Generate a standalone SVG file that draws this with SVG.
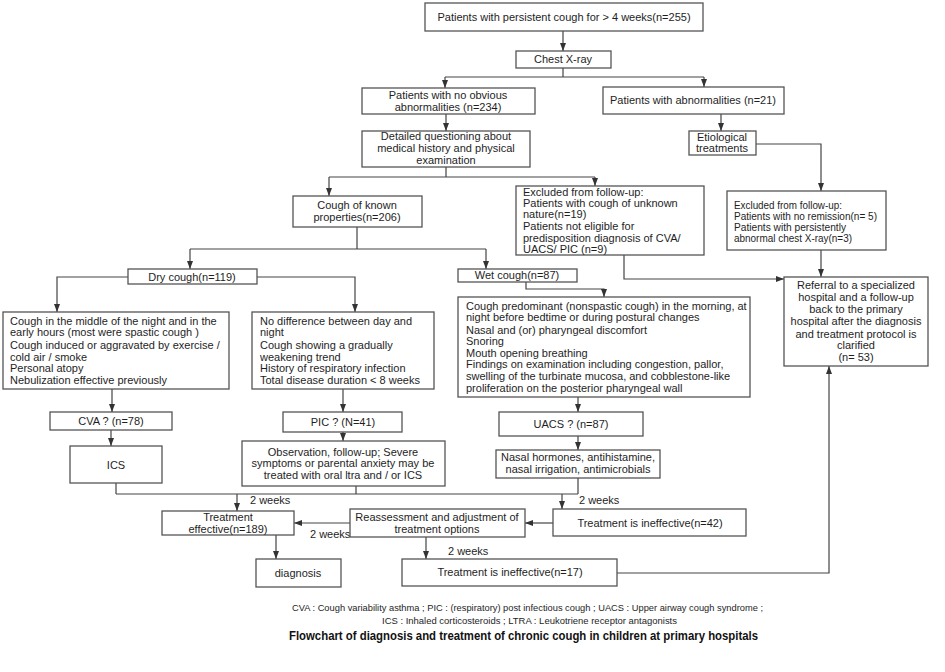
<svg xmlns="http://www.w3.org/2000/svg" width="945" height="672" viewBox="0 0 945 672">
<defs>
<marker id="ah" markerUnits="userSpaceOnUse" markerWidth="8" markerHeight="6" refX="8" refY="3" orient="auto">
<path d="M0,0 L8,3 L0,6 z" fill="#333"/>
</marker>
<style>
rect{fill:#fff;stroke:#555;stroke-width:1.3}
text{font-family:"Liberation Sans",Arial,sans-serif;font-size:11px;fill:#1e1e1e}
.c{text-anchor:middle}
.ln{fill:none;stroke:#444;stroke-width:1.2}
.ar{fill:none;stroke:#444;stroke-width:1.2;marker-end:url(#ah)}
.fn{font-size:9.5px}
.title{font-size:13px;font-weight:bold;fill:#111}
</style>
</defs>
<rect x="0" y="0" width="945" height="672" style="fill:#fff;stroke:none"/>

<g id="connectors">
<path class="ar" d="M563,31 V51"/>
<path class="ln" d="M563,68 V77 M445,77 H704"/>
<path class="ar" d="M445,77 V88"/>
<path class="ar" d="M704,77 V87"/>
<path class="ar" d="M446,114 V131"/>
<path class="ar" d="M721,114 V131"/>
<path class="ar" d="M756,144 H821 V191"/>
<path class="ln" d="M446,167 V177 M329,177 H595"/>
<path class="ar" d="M329,177 V196"/>
<path class="ar" d="M595,177 V186"/>
<path class="ln" d="M357,227 V249 M190,249 H486"/>
<path class="ar" d="M190,249 V269"/>
<path class="ar" d="M486,249 V269"/>
<path class="ar" d="M128,277 H57 V312"/>
<path class="ar" d="M257,277 H355 V312"/>
<path class="ar" d="M624,255 V279 H784"/>
<path class="ar" d="M821,250 V277"/>
<path class="ar" d="M526,282 V289 H604 V297"/>
<path class="ar" d="M112,389 V412"/>
<path class="ar" d="M343,389 V412"/>
<path class="ar" d="M111,430 V446"/>
<path class="ar" d="M343,432 V441"/>
<path class="ar" d="M578,397 V412"/>
<path class="ar" d="M578,436 V450"/>
<path class="ln" d="M116,483 V494 M356,486 V494 M578,478 V494 M116,494 H578"/>
<path class="ar" d="M237,494 V511"/>
<path class="ar" d="M562,494 V509"/>
<path class="ar" d="M553,523 H525"/>
<path class="ar" d="M350,523 H294"/>
<path class="ar" d="M276,535 V559"/>
<path class="ar" d="M426,537 V559"/>
<path class="ar" d="M617,573 H829 V366"/>
<text x="250" y="504">2 weeks</text>
<text x="579" y="504">2 weeks</text>
<text x="310" y="538">2 weeks</text>
<text x="448" y="555">2 weeks</text>
</g>

<g id="n-start"><rect x="425" y="3" width="278" height="28"/><text class="c" x="564" y="21">Patients with persistent cough for &gt; 4 weeks(n=255)</text></g>
<g id="n-xray"><rect x="516" y="51" width="95" height="17"/><text class="c" x="563" y="63">Chest X-ray</text></g>
<g id="n-noabn"><rect x="362" y="88" width="173" height="26"/><text class="c" x="448" y="99">Patients with no obvious</text><text class="c" x="448" y="111">abnormalities (n=234)</text></g>
<g id="n-abn"><rect x="603" y="87" width="181" height="27"/><text class="c" x="693" y="104">Patients with abnormalities (n=21)</text></g>
<g id="n-detail"><rect x="362" y="131" width="168" height="36"/><text class="c" x="446" y="140">Detailed questioning about</text><text class="c" x="446" y="152">medical history and physical</text><text class="c" x="446" y="164">examination</text></g>
<g id="n-etio"><rect x="689" y="131" width="67" height="24"/><text class="c" x="722" y="141">Etiological</text><text class="c" x="722" y="152">treatments</text></g>
<g id="n-known"><rect x="293" y="196" width="129" height="31"/><text class="c" x="357" y="209">Cough of known</text><text class="c" x="357" y="221">properties(n=206)</text></g>
<g id="n-excl1"><rect x="516" y="186" width="188" height="69"/>
<text x="523" y="196">Excluded from follow-up:</text>
<text x="523" y="207">Patients with cough of unknown</text>
<text x="523" y="218">nature(n=19)</text>
<text x="523" y="230">Patients not eligible for</text>
<text x="523" y="242">predisposition diagnosis of CVA/</text>
<text x="523" y="253">UACS/ PIC (n=9)</text></g>
<g id="n-excl2"><rect x="727" y="191" width="159" height="59"/>
<text x="734" y="209" textLength="108" lengthAdjust="spacingAndGlyphs">Excluded from follow-up:</text>
<text x="734" y="220" textLength="143" lengthAdjust="spacingAndGlyphs">Patients with no remission(n= 5)</text>
<text x="734" y="231" textLength="112" lengthAdjust="spacingAndGlyphs">Patients with persistently</text>
<text x="734" y="242" textLength="118" lengthAdjust="spacingAndGlyphs">abnormal chest X-ray(n=3)</text></g>
<g id="n-referral"><rect x="784" y="277" width="144" height="89"/>
<text class="c" x="856" y="289">Referral to a specialized</text>
<text class="c" x="856" y="301">hospital and a follow-up</text>
<text class="c" x="856" y="313">back to the primary</text>
<text class="c" x="856" y="325">hospital after the diagnosis</text>
<text class="c" x="856" y="338">and treatment protocol is</text>
<text class="c" x="856" y="349">clarified</text>
<text class="c" x="856" y="361">(n= 53)</text></g>
<g id="n-dry"><rect x="128" y="269" width="129" height="15"/><text class="c" x="192" y="281">Dry cough(n=119)</text></g>
<g id="n-wet"><rect x="458" y="269" width="119" height="13"/><text class="c" x="517" y="279">Wet cough(n=87)</text></g>
<g id="n-cvasym"><rect x="3" y="312" width="226" height="77"/>
<text x="10" y="325">Cough in the middle of the night and in the</text>
<text x="10" y="336">early hours (most were spastic cough )</text>
<text x="10" y="349">Cough induced or aggravated by exercise /</text>
<text x="10" y="361">cold air / smoke</text>
<text x="10" y="372">Personal atopy</text>
<text x="10" y="384">Nebulization effective previously</text></g>
<g id="n-picsym"><rect x="252" y="312" width="182" height="77"/>
<text x="260" y="325">No difference between day and</text>
<text x="260" y="336">night</text>
<text x="260" y="349">Cough showing a gradually</text>
<text x="260" y="361">weakening trend</text>
<text x="260" y="372">History of respiratory infection</text>
<text x="260" y="384">Total disease duration &lt; 8 weeks</text></g>
<g id="n-uacssym"><rect x="458" y="297" width="292" height="100"/>
<text x="466" y="310">Cough predominant (nonspastic cough) in the morning, at</text>
<text x="466" y="321">night before bedtime or during postural changes</text>
<text x="466" y="334">Nasal and (or) pharyngeal discomfort</text>
<text x="466" y="345">Snoring</text>
<text x="466" y="357">Mouth opening breathing</text>
<text x="466" y="368">Findings on examination including congestion, pallor,</text>
<text x="466" y="380">swelling of the turbinate mucosa, and cobblestone-like</text>
<text x="466" y="392">proliferation on the posterior pharyngeal wall</text></g>
<g id="n-cva"><rect x="50" y="412" width="122" height="18"/><text class="c" x="111" y="425">CVA ? (n=78)</text></g>
<g id="n-ics"><rect x="70" y="446" width="92" height="37"/><text class="c" x="116" y="469">ICS</text></g>
<g id="n-pic"><rect x="283" y="412" width="119" height="20"/><text class="c" x="343" y="426">PIC ? (N=41)</text></g>
<g id="n-obs"><rect x="242" y="441" width="203" height="45"/>
<text class="c" x="343" y="456">Observation, follow-up; Severe</text>
<text class="c" x="343" y="467">symptoms or parental anxiety may be</text>
<text class="c" x="343" y="479">treated with oral ltra and / or ICS</text></g>
<g id="n-uacs"><rect x="499" y="412" width="144" height="24"/><text class="c" x="571" y="428">UACS ? (n=87)</text></g>
<g id="n-nasal"><rect x="496" y="450" width="164" height="28"/>
<text class="c" x="578" y="461">Nasal hormones, antihistamine,</text>
<text class="c" x="578" y="473">nasal irrigation, antimicrobials</text></g>
<g id="n-effective"><rect x="162" y="511" width="132" height="24"/>
<text class="c" x="228" y="521">Treatment</text>
<text class="c" x="228" y="533">effective(n=189)</text></g>
<g id="n-reassess"><rect x="350" y="509" width="175" height="28"/>
<text class="c" x="437" y="521">Reassessment and adjustment of</text>
<text class="c" x="437" y="533">treatment options</text></g>
<g id="n-inef42"><rect x="553" y="509" width="193" height="27"/><text class="c" x="650" y="527">Treatment is ineffective(n=42)</text></g>
<g id="n-diag"><rect x="256" y="559" width="85" height="28"/><text class="c" x="298" y="577">diagnosis</text></g>
<g id="n-inef17"><rect x="402" y="559" width="215" height="27"/><text class="c" x="510" y="576">Treatment is ineffective(n=17)</text></g>

<g id="legend">
<text class="fn" x="292" y="611" textLength="471" lengthAdjust="spacingAndGlyphs">CVA : Cough variability asthma ; PIC : (respiratory) post infectious cough ; UACS : Upper airway cough syndrome ;</text>
<text class="fn" x="382" y="624" textLength="295" lengthAdjust="spacingAndGlyphs">ICS : Inhaled corticosteroids ; LTRA : Leukotriene receptor antagonists</text>
<text class="title" x="289" y="640" textLength="469" lengthAdjust="spacingAndGlyphs">Flowchart of diagnosis and treatment of chronic cough in children at primary hospitals</text>
</g>
</svg>
